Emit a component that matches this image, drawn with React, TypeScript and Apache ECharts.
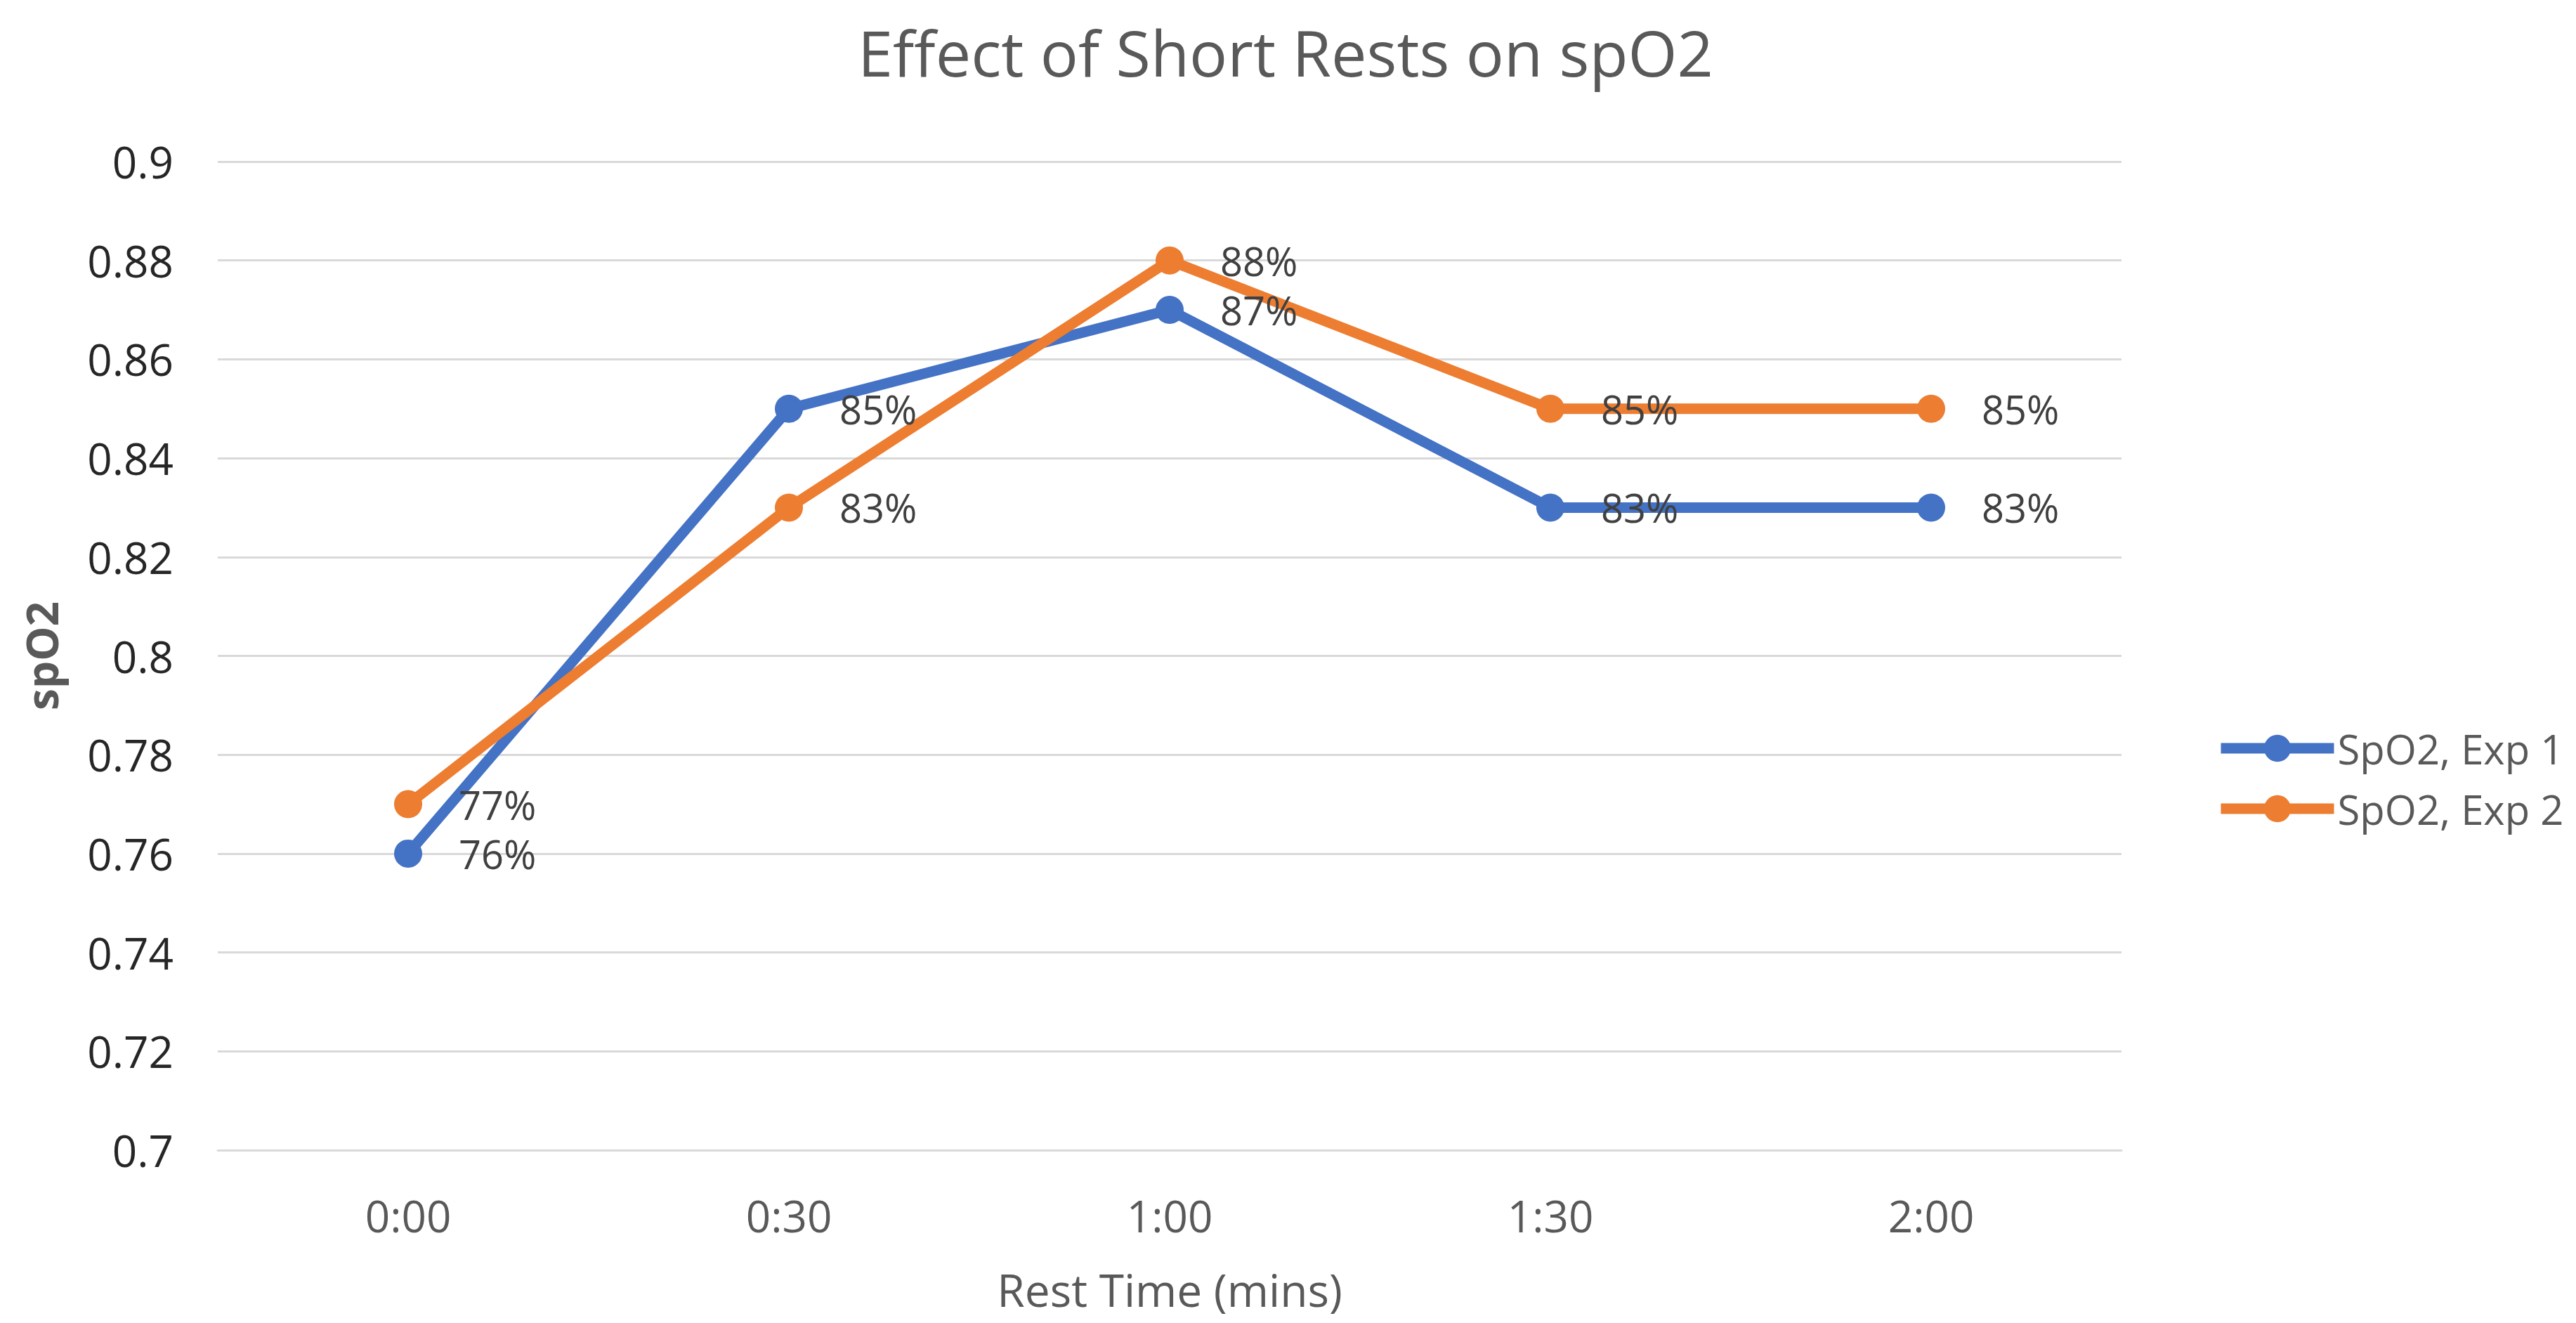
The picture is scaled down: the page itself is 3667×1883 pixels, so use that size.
import React, { useEffect, useRef } from "react";
import * as echarts from "echarts";

const categories = ["0:00", "0:30", "1:00", "1:30", "2:00"];
const exp1 = [0.76, 0.85, 0.87, 0.83, 0.83];
const exp2 = [0.77, 0.83, 0.88, 0.85, 0.85];
const seriesNames = ["SpO2, Exp 1", "SpO2, Exp 2"];
const colors = ["#4472C4", "#ED7D31"];

const FONT = "'Open Sans', 'Noto Sans', sans-serif";

export default function App() {
  const ref = useRef<HTMLDivElement>(null);
  useEffect(() => {
    document.body.style.margin = "0";
    const chart = echarts.init(ref.current!, undefined, { renderer: "svg" });
    const mkSeries = (name: string, data: number[], color: string) => ({
      name,
      type: "line",
      data,
      symbol: "circle",
      symbolSize: 40,
      lineStyle: { color, width: 15 },
      itemStyle: { color },
      label: {
        show: true,
        position: "right",
        distance: 52,
        formatter: (p: any) => Math.round(p.value * 100) + "%",
        fontFamily: FONT,
        fontSize: 56,
        lineHeight: 56,
        color: "#404040",
      },
    });
    chart.setOption({
      animation: false,
      backgroundColor: "#ffffff",
      color: colors,
      textStyle: { fontFamily: FONT },
      title: {
        text: "Effect of Short Rests on spO2",
        left: 1825,
        top: 24,
        textAlign: "center",
        textStyle: { fontFamily: FONT, fontSize: 90, fontWeight: "normal", color: "#595959" },
      },
      legend: {
        orient: "vertical",
        left: 3149,
        top: 1031,
        itemWidth: 161,
        itemHeight: 48,
        itemGap: 28,
        lineStyle: { width: 15 },
        textStyle: { fontFamily: FONT, fontSize: 58, color: "#595959" },
        data: seriesNames,
      },
      grid: { left: 310, top: 230, width: 2710, height: 1407, containLabel: false },
      xAxis: {
        type: "category",
        data: categories,
        boundaryGap: true,
        name: "Rest Time (mins)",
        nameLocation: "middle",
        nameGap: 166,
        nameTextStyle: { fontFamily: FONT, fontSize: 64, color: "#595959" },
        axisLine: { show: true, lineStyle: { color: "#D9D9D9", width: 3 } },
        axisTick: { show: false },
        axisLabel: { margin: 62, fontFamily: FONT, fontSize: 62, color: "#595959" },
      },
      yAxis: {
        type: "value",
        min: 0.7,
        max: 0.9,
        interval: 0.02,
        name: "spO2",
        nameLocation: "middle",
        nameRotate: 90,
        nameGap: 220,
        nameTextStyle: { fontFamily: FONT, fontSize: 62, fontWeight: "bold", color: "#595959" },
        axisLine: { show: false },
        axisTick: { show: false },
        splitLine: { show: true, lineStyle: { color: "#D9D9D9", width: 3 } },
        axisLabel: {
          margin: 63,
          fontFamily: FONT,
          fontSize: 62,
          color: "#262626",
          formatter: (v: number) => parseFloat(v.toFixed(2)).toString(),
        },
      },
      series: [
        mkSeries(seriesNames[0], exp1, colors[0]),
        mkSeries(seriesNames[1], exp2, colors[1]),
      ],
    });
    return () => chart.dispose();
  }, []);
  return <div ref={ref} style={{ width: 3667, height: 1883 }} />;
}
